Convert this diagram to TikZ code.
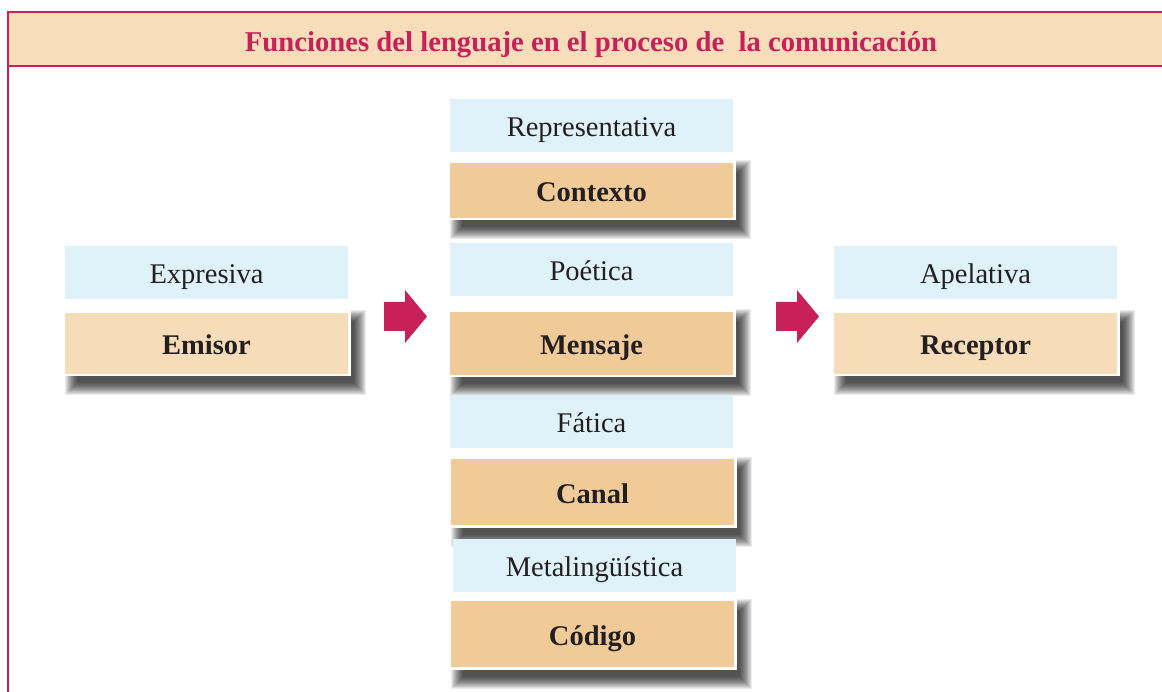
\documentclass[tikz,border=0pt]{standalone}
\usepackage{fontspec}
\setmainfont{Liberation Serif}
\definecolor{crimson}{HTML}{C8215A}
\definecolor{band}{HTML}{F7DDBA}
\definecolor{lightsand}{HTML}{F6DCB8}
\definecolor{midsand}{HTML}{F0CB98}
\definecolor{sky}{HTML}{DFF2FA}
\definecolor{ink}{HTML}{231F20}
\pgfdeclarelayer{paper}
\pgfdeclarelayer{shade}
\pgfsetlayers{paper,shade,main}
\tikzset{
  funcbox/.style={fill=sky, minimum width=283pt, minimum height=53pt, inner sep=0pt,
    text height=22pt, text depth=0pt,
    text=ink, font=\fontsize{28.5}{32}\selectfont},
  elembox/.style={draw=white, line width=2.5pt, minimum width=285.5pt, inner sep=0pt,
    text height=23pt, text depth=0pt,
    text=ink, font=\fontsize{28.5}{32}\selectfont\bfseries},
  shadelayer/.style={fill=black, opacity=0.08},
  blockarrow/.style={fill=crimson, draw=none},
  frameline/.style={draw=crimson, line width=2pt}
}
\newcommand\softshade[1]{%
  \foreach \e in {12,11,10,9,8,7,6,5,4,3,2,1,0}{%
    \fill[shadelayer] ([shift={(14-\e,12-\e)}]#1.north west) rectangle ([shift={(3+\e,7+\e)}]#1.south east);
  }%
}
\begin{document}
\begin{tikzpicture}[x=1pt,y=-1pt]
\useasboundingbox (0,0) rectangle (1162,692);
\clip (0,0) rectangle (1162,692);
\begin{pgfonlayer}{paper}
\fill[white] (0,0) rectangle (1162,692);
\end{pgfonlayer}
% frame and title band
\path[fill=band, frameline] (8,12.5) rectangle (1175,66);
\draw[frameline] (8,66) -- (8,700);
\node[anchor=base, text=crimson, font=\fontsize{28.7}{32}\selectfont\bfseries] (title) at (591,52)
  {Funciones del lenguaje en el proceso de~ la comunicación};
% left column
\node[funcbox] (expresiva) at (206.5,272.5) {Expresiva};
\node[elembox, fill=lightsand, minimum height=63.5pt] (emisor) at (206.5,343.5) {Emisor};
% center column
\node[funcbox] (representativa) at (591.5,125.5) {Representativa};
\node[elembox, fill=midsand, minimum height=57.5pt] (contexto) at (591.5,190.5) {Contexto};
\node[funcbox] (poetica) at (591.5,269.5) {Poética};
\node[elembox, fill=midsand, minimum height=65.5pt] (mensaje) at (591.5,343.5) {Mensaje};
\node[funcbox] (fatica) at (591.5,421.5) {Fática};
\node[elembox, fill=midsand, minimum height=68.5pt] (canal) at (592.5,492) {Canal};
\node[funcbox] (metaling) at (594.5,565.5) {Metalingüística};
\node[elembox, fill=midsand, minimum height=68.5pt] (codigo) at (592.5,634) {Código};
% right column
\node[funcbox] (apelativa) at (975.5,272.5) {Apelativa};
\node[elembox, fill=lightsand, minimum height=63.5pt] (receptor) at (975.5,343.5) {Receptor};
% shadows
\begin{pgfonlayer}{shade}
\softshade{emisor}
\softshade{contexto}
\softshade{mensaje}
\softshade{canal}
\softshade{codigo}
\softshade{receptor}
\end{pgfonlayer}
% block arrows
\coordinate (a1) at (384,316.5);
\coordinate (a2) at (776,316.5);
\foreach \c in {a1,a2}{
  \fill[blockarrow] ([shift={(0,-14.5)}]\c) -- ++(21,0) -- ++(0,-12) -- ++(22,26.5)
    -- ++(-22,26.5) -- ++(0,-12) -- ++(-21,0) -- cycle;
}
\end{tikzpicture}
\end{document}
